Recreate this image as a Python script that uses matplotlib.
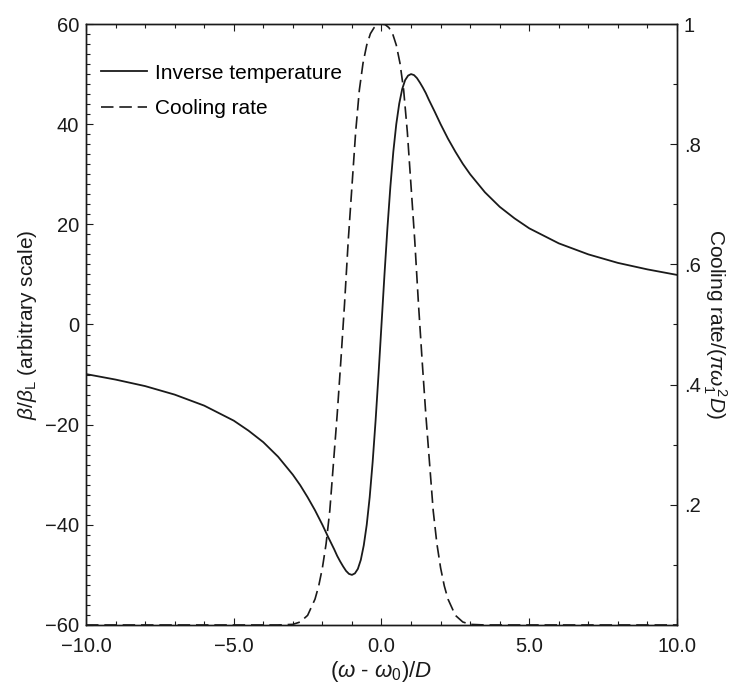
import numpy as np
import matplotlib.pyplot as plt
from matplotlib.ticker import MultipleLocator, FixedLocator, FixedFormatter

plt.rcParams['font.family'] = ['Liberation Sans', 'DejaVu Sans']
plt.rcParams['mathtext.fontset'] = 'custom'
plt.rcParams['mathtext.rm'] = 'Liberation Sans'
plt.rcParams['mathtext.it'] = 'Liberation Sans:italic'

# inverse temperature (left axis)
x_beta = [-10, -9, -8, -7, -6, -5, -4.5, -4, -3.5, -3, -2.75, -2.5, -2.25, -2,
          -1.8, -1.6, -1.5, -1.4, -1.3, -1.2, -1.1, -1, -0.9, -0.8, -0.7,
          -0.6, -0.5, -0.4, -0.3, -0.2, -0.1, 0,
          0.1, 0.2, 0.3, 0.4, 0.5, 0.6, 0.7, 0.8, 0.9, 1, 1.1, 1.2, 1.3,
          1.4, 1.5, 1.6, 1.8, 2, 2.25, 2.5, 2.75, 3, 3.5, 4, 4.5, 5, 6, 7,
          8, 9, 10]
beta = [-9.9, -11.0, -12.3, -14.0, -16.2, -19.2, -21.2, -23.5, -26.4, -30.0,
        -32.1, -34.5, -37.1, -40.0, -42.5, -44.9, -46.2, -47.3, -48.3, -49.2,
        -49.8, -50.0, -49.7, -48.8, -47.0, -44.1, -40.0, -34.5, -27.5, -19.2,
        -9.9, 0,
        9.9, 19.2, 27.5, 34.5, 40.0, 44.1, 47.0, 48.8, 49.7, 50.0, 49.8, 49.2,
        48.3, 47.3, 46.2, 44.9, 42.5, 40.0, 37.1, 34.5, 32.1, 30.0, 26.4, 23.5,
        21.2, 19.2, 16.2, 14.0, 12.3, 11.0, 9.9]

# cooling rate (right axis)
x_cool = [-10, -3.5, -3.0, -2.75, -2.5, -2.25, -2.125, -2.0, -1.875, -1.75,
          -1.625, -1.5, -1.375, -1.25, -1.125, -1.0, -0.875, -0.75, -0.625,
          -0.5, -0.375, -0.25, -0.125, 0,
          0.125, 0.25, 0.375, 0.5, 0.625, 0.75, 0.875, 1.0, 1.125, 1.25,
          1.375, 1.5, 1.625, 1.75, 1.875, 2.0, 2.125, 2.25, 2.5, 2.75, 3.0, 3.5, 10]
cool = [0, 0, 0.001, 0.005, 0.016, 0.043, 0.065, 0.095, 0.135, 0.19,
        0.27, 0.35, 0.44, 0.535, 0.64, 0.73, 0.82, 0.89, 0.935,
        0.965, 0.984, 0.994, 0.999, 1.0,
        0.999, 0.994, 0.984, 0.965, 0.935, 0.89, 0.82, 0.73, 0.64, 0.535,
        0.44, 0.35, 0.27, 0.19, 0.135, 0.095, 0.065, 0.043, 0.016, 0.005, 0.001, 0, 0]

right_ticks = [0.2, 0.4, 0.6, 0.8, 1.0]
right_labels = ['.2', '.4', '.6', '.8', '1']

fig = plt.figure(figsize=(7.42, 6.84), dpi=100)
ax = fig.add_axes([0.1159, 0.0863, 0.7965, 0.8786])
ax2 = ax.twinx()

col = '#1a1a1a'
l1, = ax.plot(x_beta, beta, color=col, lw=1.3, label='Inverse temperature')
l2, = ax2.plot(x_cool, cool, color=col, lw=1.2, ls=(0, (7.5, 3.5)),
               label='Cooling rate')

ax.set_xlim(-10, 10)
ax.set_ylim(-60, 60)
ax2.set_ylim(0, 1)

ax.set_xticks([-10, -5, 0, 5, 10])
ax.set_xticklabels(['\u221210.0', '\u22125.0', '0.0', '5.0', '10.0'])
ax.xaxis.set_minor_locator(MultipleLocator(1))
ax.set_yticks([-60, -40, -20, 0, 20, 40, 60])
ax.yaxis.set_minor_locator(MultipleLocator(2))
ax2.yaxis.set_major_locator(FixedLocator(right_ticks))
ax2.yaxis.set_major_formatter(FixedFormatter(right_labels))
ax2.yaxis.set_minor_locator(MultipleLocator(0.1))

ax.tick_params(axis='both', which='both', direction='in', labelsize=14.5,
               width=0.8, colors=col, labelcolor=col)
ax.tick_params(axis='x', which='both', top=True, pad=9)
ax.tick_params(axis='y', which='both', pad=5)
ax.tick_params(which='major', length=5)
ax.tick_params(which='minor', length=3.2)
ax2.tick_params(axis='y', which='both', direction='in', labelsize=14.5,
                width=0.8, colors=col, labelcolor=col, pad=5)
ax2.tick_params(which='major', length=5)
ax2.tick_params(which='minor', length=3.2)

for a in (ax, ax2):
    for s in a.spines.values():
        s.set_linewidth(1.0)
        s.set_color(col)

ax.set_xlabel(r'($\omega$ - $\omega_0$)/$D$', fontsize=16, color=col, labelpad=2)
ax.set_ylabel(r'$\beta/\beta_{\rm L}$ (arbitrary scale)', fontsize=15,
              color=col, labelpad=4)
ax2.set_ylabel(r'Cooling rate/($\pi\omega_1^{\,2}D$)', fontsize=15,
               color=col, rotation=270, labelpad=20)

ax.legend(handles=[l1, l2], loc='upper left', bbox_to_anchor=(0.025, 0.934),
          frameon=False, fontsize=15, handlelength=2.2, handletextpad=0.38,
          labelspacing=0.78, borderpad=0, borderaxespad=0)

plt.savefig('out.png', dpi=100)
